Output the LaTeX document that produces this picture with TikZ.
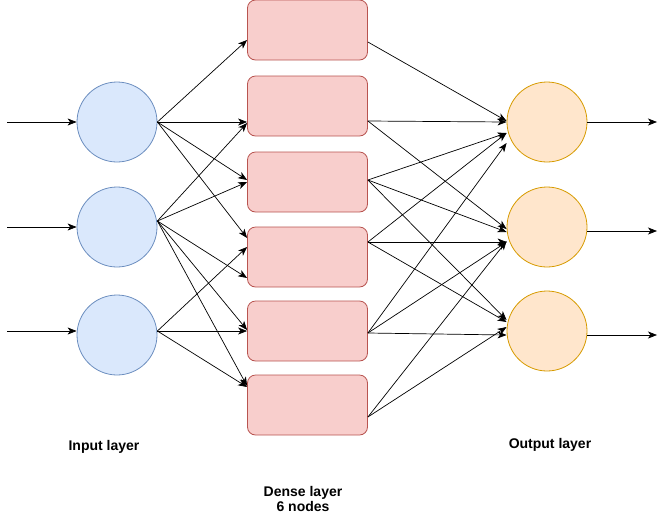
\documentclass[tikz,border=0pt]{standalone}
\usepackage{fontspec}
\setmainfont{Liberation Sans}
\usetikzlibrary{arrows.meta}
\begin{document}
\begin{tikzpicture}[x=1pt,y=-1pt,
  inputnode/.style={circle,draw=inpline,fill=inpfill,line width=0.8pt,minimum size=80pt,inner sep=0pt},
  densenode/.style={rectangle,rounded corners=8pt,draw=denseline,fill=densefill,line width=0.8pt,minimum width=120pt,minimum height=60pt,inner sep=0pt},
  outputnode/.style={circle,draw=outline,fill=outfill,line width=0.8pt,minimum size=80pt,inner sep=0pt},
  conn/.style={line width=0.7pt,-{Stealth[length=9pt,width=7pt,inset=2.5pt]}},
  caption/.style={font=\fontsize{14}{15}\selectfont\bfseries,align=center,inner sep=0pt}
]
\definecolor{inpfill}{HTML}{DAE8FC}
\definecolor{inpline}{HTML}{6C8EBF}
\definecolor{densefill}{HTML}{F8CECC}
\definecolor{denseline}{HTML}{B85450}
\definecolor{outfill}{HTML}{FFE6CC}
\definecolor{outline}{HTML}{D79B00}

\useasboundingbox (0,0) rectangle (667,515);

% input layer
\node[inputnode] (c1) at (117,122) {};
\node[inputnode] (c2) at (117,227) {};
\node[inputnode] (c3) at (117,335) {};

% dense layer
\node[densenode] (b1) at (307.5,30) {};
\node[densenode] (b2) at (307.5,106) {};
\node[densenode] (b3) at (307.5,182) {};
\node[densenode] (b4) at (307.5,257) {};
\node[densenode] (b5) at (307.5,331) {};
\node[densenode] (b6) at (307.5,405) {};

% output layer
\node[outputnode] (o1) at (547,122) {};
\node[outputnode] (o2) at (547,227) {};
\node[outputnode] (o3) at (547,331) {};

% free ends of the input and output arrows
\coordinate (in1) at (7,122);
\coordinate (in2) at (7,227);
\coordinate (in3) at (7,331);
\coordinate (out1) at (657,122);
\coordinate (out2) at (657,231);
\coordinate (out3) at (657,335);

\draw[conn] (in1) -- (c1.west);
\draw[conn] (in2) -- (c2.west);
\draw[conn] (in3) -- ([yshift=4pt]c3.west);
\draw[conn] (o1.east) -- (out1);
\draw[conn] ([yshift=-4pt]o2.east) -- (out2);
\draw[conn] ([yshift=-4pt]o3.east) -- (out3);

% input -> dense
\draw[conn] (c1.east) -- ([yshift=-10pt]b1.west);
\draw[conn] (c1.east) -- ([yshift=-16pt]b2.west);
\draw[conn] (c1.east) -- ([yshift=2pt]b3.west);
\draw[conn] (c1.east) -- ([yshift=19pt]b4.west);
\draw[conn] ([yshift=6pt]c2.east) -- ([yshift=-17pt]b2.west);
\draw[conn] ([yshift=6pt]c2.east) -- (b3.west);
\draw[conn] ([yshift=6pt]c2.east) -- ([yshift=-21pt]b4.west);
\draw[conn] ([yshift=6pt]c2.east) -- ([yshift=1pt]b5.west);
\draw[conn] ([yshift=6pt]c2.east) -- ([yshift=19pt]b6.west);
\draw[conn] ([yshift=4pt]c3.east) -- ([yshift=10pt]b4.west);
\draw[conn] ([yshift=4pt]c3.east) -- (b5.west);
\draw[conn] ([yshift=4pt]c3.east) -- ([yshift=18pt]b6.west);

% dense -> output
\draw[conn] ([yshift=-12pt]b1.east) -- ([yshift=1pt]o1.west);
\draw[conn] ([yshift=-15pt]b2.east) -- (o1.west);
\draw[conn] ([yshift=-15pt]b2.east) -- ([yshift=-2pt]o2.west);
\draw[conn] ([yshift=2pt]b3.east) -- ([yshift=-11pt]o1.west);
\draw[conn] ([yshift=2pt]b3.east) -- ([yshift=-5pt]o2.west);
\draw[conn] ([yshift=2pt]b3.east) -- ([yshift=11pt]o3.west);
\draw[conn] ([yshift=15pt]b4.east) -- ([yshift=-11pt]o1.west);
\draw[conn] ([yshift=15pt]b4.east) -- ([yshift=-15pt]o2.west);
\draw[conn] ([yshift=15pt]b4.east) -- ([yshift=9pt]o3.west);
\draw[conn] ([yshift=-2pt]b5.east) -- ([yshift=-21pt]o1.west);
\draw[conn] ([yshift=-2pt]b5.east) -- ([yshift=-15pt]o2.west);
\draw[conn] ([yshift=-2pt]b5.east) -- ([yshift=-4pt]o3.west);
\draw[conn] ([yshift=-12pt]b6.east) -- ([yshift=-14pt]o2.west);
\draw[conn] ([yshift=-12pt]b6.east) -- ([yshift=4pt]o3.west);

% captions
\node[caption] (lin) at (104,447) {Input layer};
\node[caption] (lout) at (550,445) {Output layer};
\node[caption] (ldense) at (303,499) {Dense layer\\6 nodes};
\end{tikzpicture}
\end{document}
